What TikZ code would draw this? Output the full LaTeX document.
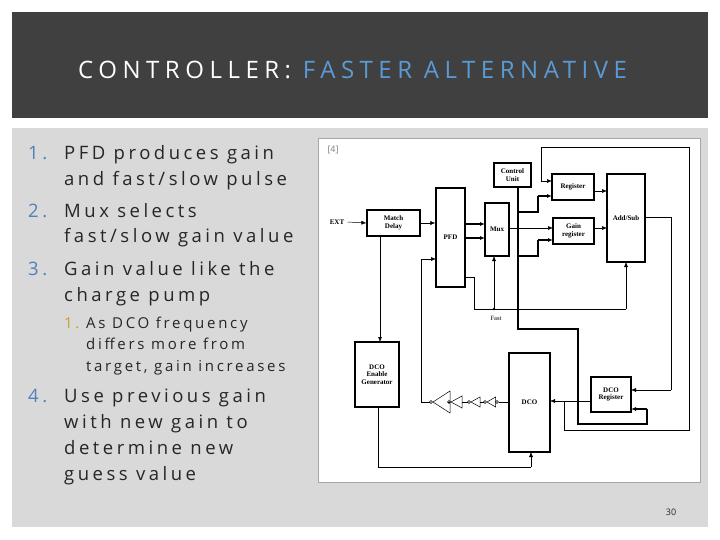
\documentclass[tikz,border=0pt]{standalone}
\usepackage{fontspec}
\setmainfont{Open Sans}
\newfontfamily\serf{Liberation Serif}
\usetikzlibrary{arrows.meta}
\definecolor{hdr}{HTML}{404040}
\definecolor{pane}{HTML}{D9D9D9}
\definecolor{ttlblue}{HTML}{5B9BD5}
\definecolor{numblue}{HTML}{4F81BD}
\definecolor{gold}{HTML}{C9A227}
\definecolor{txt}{HTML}{262626}
\begin{document}
\begin{tikzpicture}[x=1pt,y=-1pt,
  blk/.style={draw,line width=1.2pt,inner sep=0pt,font=\serf\fontsize{7}{7.5}\selectfont\bfseries,align=center},
  w/.style={line width=0.5pt},
  tw/.style={line width=1.4pt},
  arr/.style={-{Latex[length=5pt,width=4pt]}},
  li/.style={anchor=base west,font=\fontsize{18.5}{18.5}\selectfont\addfontfeature{LetterSpace=19},text=txt,inner sep=0pt},
  sli/.style={anchor=base west,font=\fontsize{15}{15}\selectfont\addfontfeature{LetterSpace=18},text=txt,inner sep=0pt}]
\useasboundingbox (0,0) rectangle (720,540);
\fill[white] (0,0) rectangle (720,540);
\fill[hdr] (12,12) rectangle (708,118);
\fill[pane] (12,128) rectangle (708,527);
\node[font=\fontsize{24}{24}\selectfont\addfontfeature{LetterSpace=23},anchor=base west,inner sep=0pt] (title) at (78,79) {\textcolor{white}{CONTROLLER:} \textcolor{ttlblue}{FASTER ALTERNATIVE}};
% list
\node[li,text=numblue] (n1) at (28,160) {1.};
\node[li] (t1a) at (64,160) {PFD produces gain};
\node[li] (t1b) at (64,186) {and fast/slow pulse};
\node[li,text=numblue] (n2) at (28,218) {2.};
\node[li] (t2a) at (64,218) {Mux selects};
\node[li] (t2b) at (64,243) {fast/slow gain value};
\node[li,text=numblue] (n3) at (28,275) {3.};
\node[li] (t3a) at (64,275) {Gain value like the};
\node[li] (t3b) at (64,301) {charge pump};
\node[sli,text=gold] (s1) at (64,328) {1.};
\node[sli] (s1a) at (86,328) {As DCO frequency};
\node[sli] (s1b) at (86,349) {differs more from};
\node[sli] (s1c) at (86,371) {target, gain increases};
\node[li,text=numblue] (n4) at (28,402) {4.};
\node[li] (t4a) at (64,402) {Use previous gain};
\node[li] (t4b) at (64,428) {with new gain to};
\node[li] (t4c) at (64,454) {determine new};
\node[li] (t4d) at (64,480) {guess value};
\node[font=\fontsize{9}{9}\selectfont,text=txt] (pg) at (671,512) {30};
% figure
\fill[white,draw=gray!70] (318,138) rectangle (700,482);
\node[anchor=north west,font=\fontsize{9}{9}\selectfont,text=gray] (ref) at (324,143) {[4]};
\node[blk,minimum width=37pt,minimum height=24pt] (cu) at (512.5,175) {Control\\Unit};
\node[blk,minimum width=42pt,minimum height=26pt] (reg) at (573,187) {Register};
\node[blk,minimum width=38pt,minimum height=88pt] (as) at (626,218) {Add/Sub};
\node[blk,minimum width=53pt,minimum height=26pt] (md) at (393.5,223) {Match\\Delay};
\node[blk,minimum width=29pt,minimum height=99pt] (pfd) at (450.5,237.5) {PFD};
\node[blk,minimum width=24pt,minimum height=53pt] (mux) at (497,229.5) {Mux};
\node[blk,minimum width=41pt,minimum height=26pt] (gr) at (573.5,231) {Gain\\register};
\node[blk,minimum width=44pt,minimum height=65pt] (deg) at (377,374.5) {DCO\\Enable\\Generator};
\node[blk,minimum width=41pt,minimum height=99pt] (dco) at (529.5,402.5) {DCO};
\node[blk,minimum width=40pt,minimum height=35pt] (dreg) at (611,394.5) {DCO\\Register};
\node[font=\serf\fontsize{7}{7}\selectfont\bfseries] (ext) at (337,222) {EXT};
\node[font=\serf\fontsize{6.5}{6.5}\selectfont] (fast) at (496,318) {Fast};
% wires
\draw[w,arr] (ext.east) -- (md.west);
\draw[w,arr] (md.east|-0,223) -- (pfd.west|-0,223);
\draw[w,arr] (380,236) -- (380,342);
\draw[tw,arr] (465,224) -- (485,224);
\draw[tw,arr] (465,238) -- (485,238);
\draw[w,arr] (509,228) -- (553,228);
\draw[w,arr] (594,191) -- (607,191);
\draw[w,arr] (594,228) -- (607,228);
% control unit bus
\draw[tw] (518,187) -- (518,329) -- (578,329) -- (578,424) -- (647,424) -- (647,409);
\draw[tw,arr] (647,409) -- (631,409);
\draw[tw] (518,212) -- (538,212) -- (538,196);
\draw[tw,arr] (538,196) -- (552,196);
\draw[tw] (518,256) -- (538,256) -- (538,240);
\draw[tw,arr] (538,240) -- (553,240);
% feedback
\draw[w,arr] (591,401) -- (550,401);
\draw[w] (564,401) -- (564,430) -- (689,430) -- (689,147) -- (541,147) -- (541,181);
\draw[w,arr] (541,181) -- (552,181);
\draw[w] (645,217) -- (671,217) -- (671,390);
\draw[w,arr] (671,390) -- (631,390);
\draw[w] (465,277) -- (474,277) -- (474,309) -- (626,309);
\draw[w,arr] (626,309) -- (626,262);
\fill (494,309) circle (1.3pt);
\draw[w,arr] (494,309) -- (494,256);
\draw[w] (378,407) -- (378,467) -- (531,467);
\draw[w,arr] (531,467) -- (531,452);
% inverter chain (pointing left)
\draw[w] (509,402) -- (499,402);
\draw[w] (497,402) circle (1.5pt);
\draw[w] (495.5,397) -- (495.5,407) -- (487,402) -- cycle;
\draw[w] (485,402) circle (1.5pt);
\draw[w] (483.5,402) -- (480,402);
\draw[w] (480,397) -- (480,407) -- (471,402) -- cycle;
\draw[w] (469,402) circle (1.5pt);
\draw[w] (467.5,402) -- (462,402);
\draw[w] (462,396) -- (462,408) -- (451,402) -- cycle;
\draw[w] (449,402) circle (1.5pt);
\draw[w] (447.5,402) -- (450,402);
\draw[w] (450,391) -- (450,413) -- (433,402) -- cycle;
\draw[w] (431,402) circle (1.5pt);
\draw[w] (429.5,402) -- (421,402) -- (421,259);
\draw[w,arr] (421,259) -- (436,259);
\end{tikzpicture}
\end{document}
